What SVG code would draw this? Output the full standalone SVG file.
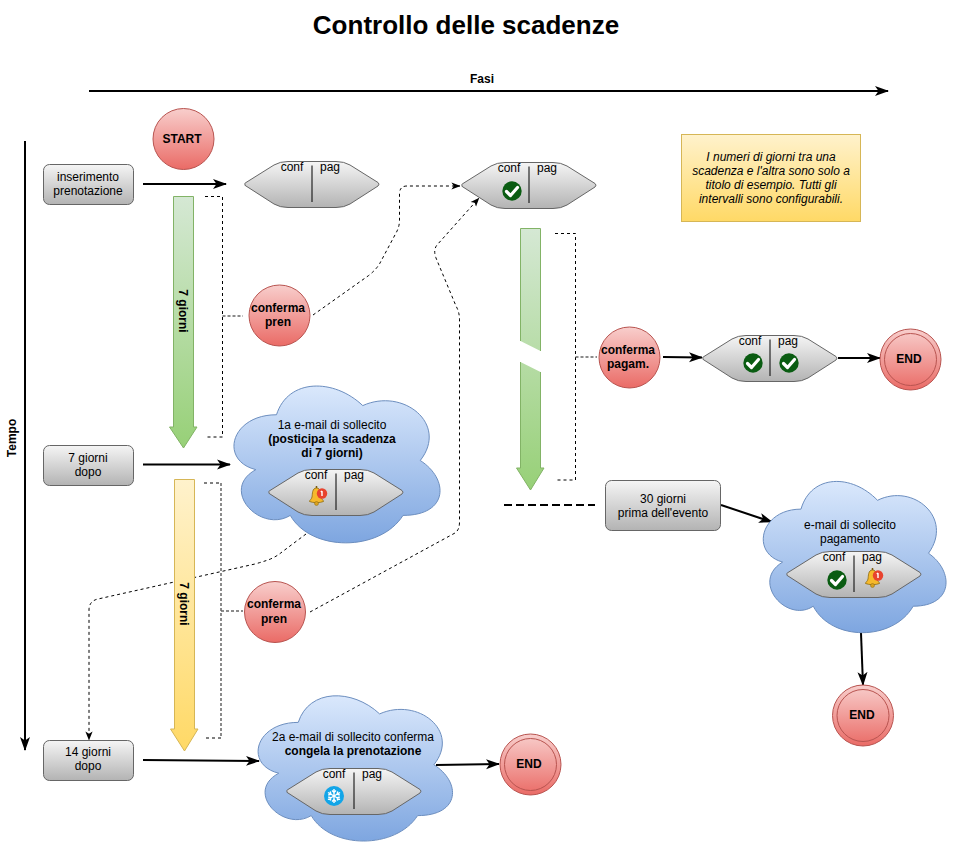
<svg xmlns="http://www.w3.org/2000/svg" xmlns:xlink="http://www.w3.org/1999/xlink" width="956" height="852" viewBox="0 0 956 852">
<style>
text{font-family:"Liberation Sans",Arial,sans-serif;font-size:12px;fill:#000;text-anchor:middle}
.b{font-weight:700}
.line{fill:none;stroke:#000;stroke-width:2}
.dot{fill:none;stroke:#000;stroke-width:1;stroke-dasharray:3 3}
.sdot{fill:none;stroke:#666;stroke-width:1.5;stroke-dasharray:3 2}
.red{fill:url(#gr);stroke:#b85450}
.gray{fill:url(#gg);stroke:#666}
.blue{fill:url(#gb);stroke:#6c8ebf;vector-effect:non-scaling-stroke}
.yel{fill:url(#gy);stroke:#d6b656}
</style>
<defs>
<linearGradient id="gr" x1="0" y1="0" x2="0" y2="1"><stop offset="0" stop-color="#f8cecc"/><stop offset="1" stop-color="#ea6b66"/></linearGradient>
<linearGradient id="gg" x1="0" y1="0" x2="0" y2="1"><stop offset="0" stop-color="#f5f5f5"/><stop offset="1" stop-color="#b3b3b3"/></linearGradient>
<linearGradient id="gb" x1="0" y1="0" x2="0" y2="1"><stop offset="0" stop-color="#dae8fc"/><stop offset="1" stop-color="#7ea6e0"/></linearGradient>
<linearGradient id="gn1" gradientUnits="userSpaceOnUse" x1="0" y1="196" x2="0" y2="448"><stop offset="0" stop-color="#d5e8d4"/><stop offset="1" stop-color="#97d077"/></linearGradient>
<linearGradient id="gn2" gradientUnits="userSpaceOnUse" x1="0" y1="228" x2="0" y2="490"><stop offset="0" stop-color="#d5e8d4"/><stop offset="1" stop-color="#97d077"/></linearGradient>
<linearGradient id="gy" x1="0" y1="0" x2="0" y2="1"><stop offset="0" stop-color="#fff2cc"/><stop offset="1" stop-color="#ffd966"/></linearGradient>
<marker id="a" viewBox="0 0 14 10" refX="13" refY="5" markerWidth="14" markerHeight="11" markerUnits="userSpaceOnUse" orient="auto"><path d="M0,0L14,5L0,10L3.500,5Z" fill="#000"/></marker>
<marker id="as" viewBox="0 0 10 8" refX="9.500" refY="4" markerWidth="9" markerHeight="8" markerUnits="userSpaceOnUse" orient="auto"><path d="M0,0L10,4L0,8L2.500,4Z" fill="#000"/></marker>
<path id="cloud" class="blue" d="M25,25C5,25 0,50 16,55C0,66 18,90 31,80C40,100 70,100 80,80C100,80 100,60 87.500,50C100,30 80,10 62.500,20C50,5 30,5 25,25Z"/>
<g id="hex">
<path class="gray" d="M1,23.500Q0,22.500 2,21.500L30,4Q36,.5 44,.5L92,.5Q100,.5 106,4L134,21.500Q136,23 134,25L106,43Q100,46.500 92,46.500L44,46.500Q36,46.500 30,43L2,25Q0,24 1,23.500Z"/>
<path d="M68,4.500V41" stroke="#000" stroke-width="1" fill="none"/>
<text x="48" y="10">conf</text><text x="86" y="10">pag</text>
</g>
<g id="check"><circle r="9.700" fill="#0a5c12"/><path d="M-5.500,.5L-1.500,4.500L5.500,-3.500" fill="none" stroke="#fff" stroke-width="3.200" stroke-linecap="round" stroke-linejoin="round"/></g>
<g id="bell">
<path d="M-2.500,-8.500V-11" stroke="#7a5a10" stroke-width="1.500"/>
<path d="M-2.500,-9C-7,-9 -6.500,-3 -7,0C-7.500,2.500 -9.500,3 -9.500,4.500C-6,6 1,6 4.500,4.500C4.500,3 2.500,2.500 2,0C1.500,-3 2,-9 -2.500,-9Z" fill="#f6b92c" stroke="#8a6a10" stroke-width=".8"/>
<circle cx="-2.500" cy="6.500" r="2" fill="#d8a020" stroke="#8a6a10" stroke-width=".5"/>
<circle cx="3" cy="-3.500" r="5.200" fill="#e8432e"/>
<path d="M3,-6V-1M1.800,-5L3,-6" stroke="#fff" stroke-width="1.400" fill="none"/>
</g>
<g id="snow"><circle r="10" fill="#12a5e8"/><g stroke="#fff" stroke-width="1.400" fill="none"><path id="sf" d="M0,-7V7M-2,-5.500L0,-3.500L2,-5.500M-2,5.500L0,3.500L2,5.500"/><use xlink:href="#sf" transform="rotate(60)"/><use xlink:href="#sf" transform="rotate(120)"/></g></g>
</defs>
<rect width="956" height="852" fill="#fff"/>
<text id="title" class="b" x="466" y="33.500" style="font-size:26px">Controllo delle scadenze</text>

<g id="connectors">
<path class="line" marker-end="url(#a)" d="M89,91H888"/>
<path class="line" marker-end="url(#a)" d="M25,141V750"/>
<path class="line" marker-end="url(#a)" d="M143,184H226"/>
<path class="line" marker-end="url(#a)" d="M143,464.500H230"/>
<path class="line" marker-end="url(#a)" d="M143,760L259,761"/>
<path class="line" marker-end="url(#a)" d="M436,765L499,764"/>
<path class="line" marker-end="url(#a)" d="M663,357L702,357.500"/>
<path class="line" marker-end="url(#a)" d="M838,358H880"/>
<path class="line" marker-end="url(#a)" d="M721,505L772,522"/>
<path class="line" marker-end="url(#a)" d="M861,633L863,685"/>
<path class="line" stroke-dasharray="8 4" d="M504,505H595"/>
<path class="dot" d="M205,196.500H222.500V437H205"/>
<path class="dot" d="M204,483H221M221,738H204"/>
<path class="sdot" d="M221,483V738"/>
<path class="dot" d="M555,233.500H575.500V480H555"/>
<path class="sdot" d="M222.500,316H243"/>
<path class="sdot" d="M221,611H243"/>
<path class="sdot" d="M575.500,357H597"/>
<path class="dot" marker-end="url(#as)" d="M313,315L368,276Q376,270 380,263L396,233Q399.500,227 399.500,220V194Q399.500,186 407,186H460"/>
<path class="dot" marker-end="url(#as)" d="M306,534L282,552Q276,557 268,560Q262,562 255,564L98,599Q89,601 89,610V740"/>
<path class="dot" marker-end="url(#as)" d="M310,612L455,533Q459.500,530 459.500,522V320Q459.500,312 456,306L436,258Q433,250 437,245L479,198"/>
</g>

<g id="arrow-green-1"><path fill="url(#gn1)" stroke="#82b366" d="M173.500,196.500H193.500V427H197L183.500,448L169.500,427H173.500Z"/><text class="b" transform="translate(179,311) rotate(90)">7 giorni</text></g>
<g id="arrow-yellow"><path class="yel" d="M174.500,479.500H194.500V729H198L184.500,751L170.500,729H174.500Z"/><text class="b" transform="translate(180,604) rotate(90)">7 giorni</text></g>
<g id="arrow-green-2">
<path fill="url(#gn2)" stroke="none" d="M520.500,228.500H540.500V351L520.500,341ZM520.500,362L540.500,372V468H544L530.500,490L516.500,468H520.500Z"/>
<path fill="none" stroke="#82b366" d="M520.500,341V228.500H540.500V351M520.500,362V468H516.500L530.500,490L544,468H540.500V372"/>
</g>

<g id="start"><circle class="red" cx="183.500" cy="139" r="30.500"/><text class="b" x="182" y="143">START</text></g>
<g id="n-ins"><rect class="gray" x="43.500" y="164.500" width="90" height="40" rx="6"/><text x="88" y="181">inserimento</text><text x="88" y="195">prenotazione</text></g>
<g id="n-7"><rect class="gray" x="43.500" y="445.500" width="90" height="40" rx="6"/><text x="88" y="462">7 giorni</text><text x="88" y="476">dopo</text></g>
<g id="n-14"><rect class="gray" x="43.500" y="740.500" width="90" height="40" rx="6"/><text x="88" y="756">14 giorni</text><text x="88" y="770">dopo</text></g>
<g id="n-30"><rect class="gray" x="605.500" y="480.500" width="115" height="50" rx="6"/><text x="663" y="503">30 giorni</text><text x="663" y="517">prima dell'evento</text></g>

<g id="hex1"><use xlink:href="#hex" x="244" y="161"/></g>
<g id="hex2"><use xlink:href="#hex" x="461" y="162"/><use xlink:href="#check" x="512" y="191"/></g>
<g id="hex3"><use xlink:href="#hex" x="702" y="335"/><use xlink:href="#check" x="753" y="363"/><use xlink:href="#check" x="789" y="363"/></g>

<g id="conf1"><circle class="red" cx="279.500" cy="315.500" r="30.500"/><text class="b" x="278" y="312">conferma</text><text class="b" x="278" y="326">pren</text></g>
<g id="conf2"><circle class="red" cx="275" cy="612" r="30.500"/><text class="b" x="274" y="608">conferma</text><text class="b" x="274" y="623">pren</text></g>
<g id="conf3"><circle class="red" cx="629.500" cy="357.500" r="30.500"/><text class="b" x="628" y="354">conferma</text><text class="b" x="628" y="368">pagam.</text></g>

<g id="end1"><circle class="red" cx="910.500" cy="359.500" r="30.500"/><circle cx="910.500" cy="359.500" r="26" fill="none" stroke="#b85450"/><text class="b" x="909" y="363">END</text></g>
<g id="end2"><circle class="red" cx="863" cy="715.500" r="30.500"/><circle cx="863" cy="715.500" r="26" fill="none" stroke="#b85450"/><text class="b" x="862" y="719">END</text></g>
<g id="end3"><circle class="red" cx="530.500" cy="764.500" r="30.500"/><circle cx="530.500" cy="764.500" r="26" fill="none" stroke="#b85450"/><text class="b" x="529" y="768">END</text></g>

<g id="cloud1"><use xlink:href="#cloud" transform="translate(219,369) scale(2.3,1.83)"/>
<text x="332" y="429">1a e-mail di sollecito</text><text class="b" x="332" y="443">(posticipa la scadenza</text><text class="b" x="332" y="457">di 7 giorni)</text>
<use xlink:href="#hex" x="268" y="469"/><use xlink:href="#bell" x="319" y="497"/></g>
<g id="cloud2"><use xlink:href="#cloud" transform="translate(750,465) scale(2.04,1.765)"/>
<text x="850" y="529">e-mail di sollecito</text><text x="850" y="543">pagamento</text>
<use xlink:href="#hex" x="786" y="551"/><use xlink:href="#check" x="837" y="580"/><use xlink:href="#bell" x="875" y="579"/></g>
<g id="cloud3"><use xlink:href="#cloud" transform="translate(244,680) scale(2.17,1.695)"/>
<text x="353" y="741">2a e-mail di sollecito conferma</text><text class="b" x="353" y="755">congela la prenotazione</text>
<use xlink:href="#hex" x="286" y="768"/><use xlink:href="#snow" x="334" y="796"/></g>

<g id="note"><rect class="yel" x="681.500" y="134.500" width="179" height="87"/>
<g style="font-style:italic"><text x="771" y="161">I numeri di giorni tra una</text><text x="771" y="175">scadenza e l'altra sono solo a</text><text x="771" y="189">titolo di esempio. Tutti gli</text><text x="771" y="203">intervalli sono configurabili.</text></g></g>
<text id="fasi" class="b" x="482" y="83">Fasi</text>
<text id="tempo" class="b" transform="translate(16,438) rotate(-90)">Tempo</text>
</svg>
